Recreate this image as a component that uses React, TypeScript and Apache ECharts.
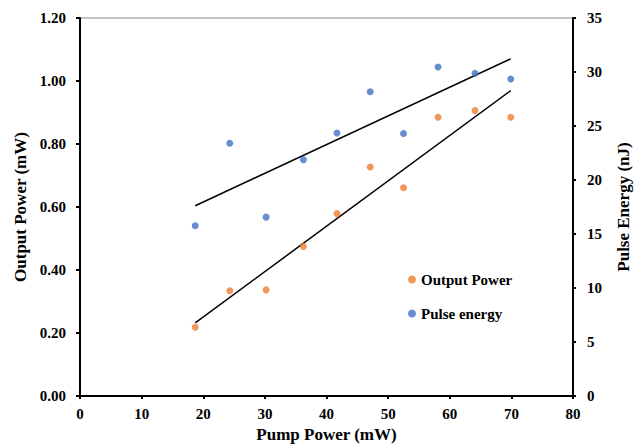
import React, { useEffect, useRef } from "react";
import * as echarts from "echarts";

const pumpPower = [18.7, 24.3, 30.2, 36.25, 41.7, 47.1, 52.5, 58.1, 64.1, 69.9];
const outputPower = [0.218, 0.334, 0.337, 0.475, 0.579, 0.727, 0.661, 0.885, 0.906, 0.885];
const pulseEnergy = [15.77, 23.41, 16.56, 21.87, 24.36, 28.17, 24.3, 30.47, 29.89, 29.36];
const seriesNames = ["Output Power", "Pulse energy"];
const colors = ["#ED7D31", "#4472C4"];

function linearFit(xs: number[], ys: number[]): number[][] {
  const n = xs.length;
  const mx = xs.reduce((a, b) => a + b, 0) / n;
  const my = ys.reduce((a, b) => a + b, 0) / n;
  let sxy = 0;
  let sxx = 0;
  for (let i = 0; i < n; i++) {
    sxy += (xs[i] - mx) * (ys[i] - my);
    sxx += (xs[i] - mx) * (xs[i] - mx);
  }
  const slope = sxy / sxx;
  const icpt = my - slope * mx;
  const x0 = Math.min(...xs);
  const x1 = Math.max(...xs);
  return [
    [x0, icpt + slope * x0],
    [x1, icpt + slope * x1],
  ];
}

const FONT = "'Liberation Serif', 'Times New Roman', serif";

export default function App() {
  const ref = useRef<HTMLDivElement>(null);
  useEffect(() => {
    if (!ref.current) return;
    const chart = echarts.init(ref.current, undefined, { renderer: "svg" });
    const axisLabelStyle = {
      fontFamily: FONT,
      fontWeight: "bold" as const,
      fontSize: 15,
      color: "#000",
    };
    const nameStyle = {
      fontFamily: FONT,
      fontWeight: "bold" as const,
      fontSize: 17,
      color: "#000",
    };
    chart.setOption({
      animation: false,
      backgroundColor: "#fff",
      grid: {
        left: 80,
        right: 70,
        top: 18,
        bottom: 50,
        show: true,
        borderColor: "#888",
        borderWidth: 1,
      },
      legend: {
        data: seriesNames,
        orient: "vertical",
        left: 403,
        top: 267,
        itemWidth: 8,
        itemHeight: 8,
        itemGap: 19,
        icon: "circle",
        textStyle: {
          fontFamily: FONT,
          fontWeight: "bold",
          fontSize: 15,
          color: "#000",
        },
      },
      xAxis: {
        type: "value",
        min: 0,
        max: 80,
        interval: 10,
        name: "Pump Power (mW)",
        nameLocation: "middle",
        nameGap: 30,
        nameTextStyle: nameStyle,
        splitLine: { show: false },
        axisLine: { show: true, onZero: false, lineStyle: { color: "#000", width: 2 } },
        axisTick: { show: true, inside: false, length: 3, lineStyle: { color: "#000", width: 2 } },
        axisLabel: { ...axisLabelStyle, margin: 10 },
      },
      yAxis: [
        {
          type: "value",
          min: 0,
          max: 1.2,
          interval: 0.2,
          position: "left",
          name: "Output Power (mW)",
          nameLocation: "middle",
          nameRotate: 90,
          nameGap: 47,
          nameTextStyle: nameStyle,
          splitLine: { show: false },
          axisLine: { show: true, onZero: false, lineStyle: { color: "#000", width: 2 } },
          axisTick: { show: true, length: 4, lineStyle: { color: "#000", width: 2 } },
          axisLabel: {
            ...axisLabelStyle,
            margin: 14,
            formatter: (v: number) => v.toFixed(2),
          },
        },
        {
          type: "value",
          min: 0,
          max: 35,
          interval: 5,
          position: "right",
          name: "Pulse Energy (nJ)",
          nameLocation: "middle",
          nameRotate: 90,
          nameGap: 42,
          nameTextStyle: nameStyle,
          splitLine: { show: false },
          axisLine: { show: true, onZero: false, lineStyle: { color: "#000", width: 2 } },
          axisTick: { show: true, length: 3, lineStyle: { color: "#000", width: 2 } },
          axisLabel: { ...axisLabelStyle, margin: 14 },
        },
      ],
      series: [
        {
          name: seriesNames[0],
          type: "scatter",
          yAxisIndex: 0,
          symbol: "circle",
          symbolSize: 7,
          itemStyle: { color: colors[0] },
          data: pumpPower.map((x, i) => [x, outputPower[i]]),
          z: 3,
        },
        {
          name: seriesNames[1],
          type: "scatter",
          yAxisIndex: 1,
          symbol: "circle",
          symbolSize: 7,
          itemStyle: { color: colors[1] },
          data: pumpPower.map((x, i) => [x, pulseEnergy[i]]),
          z: 3,
        },
        {
          name: "Output trend",
          type: "line",
          yAxisIndex: 0,
          showSymbol: false,
          symbol: "none",
          lineStyle: { color: "#000", width: 1.5 },
          data: linearFit(pumpPower, outputPower),
          z: 2,
        },
        {
          name: "Energy trend",
          type: "line",
          yAxisIndex: 1,
          showSymbol: false,
          symbol: "none",
          lineStyle: { color: "#000", width: 1.5 },
          data: linearFit(pumpPower, pulseEnergy),
          z: 2,
        },
      ],
    });
    return () => chart.dispose();
  }, []);
  return (
    <div
      ref={ref}
      style={{ position: "fixed", left: 0, top: 0, width: 643, height: 448, background: "#fff" }}
    />
  );
}
